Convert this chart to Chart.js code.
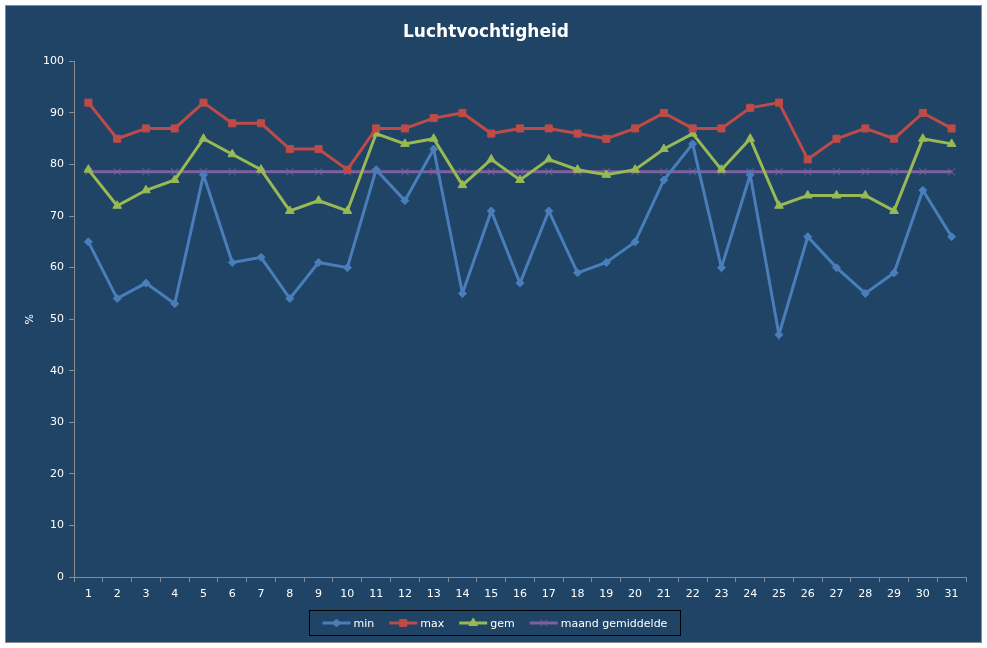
<!DOCTYPE html>
<html>
<head>
<meta charset="utf-8">
<script src="https://cdn.jsdelivr.net/npm/chart.js@4"></script>
<style>
  html, body { margin: 0; padding: 0; background: #ffffff; }
  #box {
    position: absolute; left: 5px; top: 5px;
    width: 975px; height: 636px;
    background: #1f4466; border: 1px solid #8a8a8a;
  }
  canvas { display: block; }
</style>
</head>
<body>
<div id="box"><canvas id="chart" width="975" height="636"></canvas></div>
<script>
const days = ["1","2","3","4","5","6","7","8","9","10","11","12","13","14","15","16",
  "17","18","19","20","21","22","23","24","25","26","27","28","29","30","31"];

const minValues = [65, 54, 57, 53, 78, 61, 62, 54, 61, 60, 79, 73, 83, 55, 71, 57,
  71, 59, 61, 65, 77, 84, 60, 78, 47, 66, 60, 55, 59, 75, 66];
const maxValues = [92, 85, 87, 87, 92, 88, 88, 83, 83, 79, 87, 87, 89, 90, 86, 87,
  87, 86, 85, 87, 90, 87, 87, 91, 92, 81, 85, 87, 85, 90, 87];
const gemValues = [79, 72, 75, 77, 85, 82, 79, 71, 73, 71, 86, 84, 85, 76, 81, 77,
  81, 79, 78, 79, 83, 86, 79, 85, 72, 74, 74, 74, 71, 85, 84];
const maandValues = [78.6, 78.6, 78.6, 78.6, 78.6, 78.6, 78.6, 78.6, 78.6, 78.6, 78.6,
  78.6, 78.6, 78.6, 78.6, 78.6, 78.6, 78.6, 78.6, 78.6, 78.6, 78.6, 78.6, 78.6, 78.6,
  78.6, 78.6, 78.6, 78.6, 78.6, 78.6];

const FONT = "'DejaVu Sans', Verdana, sans-serif";
const AXIS = '#8c8c8c';

const series = [
  { label: 'min', data: minValues, color: '#4a7ebb', style: 'rectRot', radius: 4 },
  { label: 'max', data: maxValues, color: '#be4b48', style: 'rect', radius: 5 },
  { label: 'gem', data: gemValues, color: '#98b954', style: 'triangle', radius: 5 },
  { label: 'maand gemiddelde', data: maandValues, color: '#7d60a0', style: 'crossRot', radius: 5 },
];

const datasets = series.map(s => ({
  label: s.label,
  data: s.data,
  borderColor: s.color,
  backgroundColor: s.color,
  borderWidth: 3,
  pointStyle: s.style,
  pointRadius: s.radius,
  pointBorderWidth: 1,
  pointBackgroundColor: s.color,
  pointBorderColor: s.color,
  tension: 0,
  clip: false,
}));

// legend like the spreadsheet one: line sample + marker, boxed
const boxLegend = {
  id: 'boxLegend',
  afterDraw(chart) {
    const ctx = chart.ctx;
    ctx.save();
    ctx.font = '11px ' + FONT;
    const lineLen = 28, gap = 3, spacing = 15, pad = 13;
    const widths = series.map(s => lineLen + gap + ctx.measureText(s.label).width);
    const total = widths.reduce((a, b) => a + b, 0) + spacing * (series.length - 1);
    const boxW = Math.round(total + pad * 2), boxH = 25;
    const cx = (chart.chartArea.left + chart.chartArea.right) / 2 - 26;
    const bx = Math.round(cx - boxW / 2) + 0.5, by = 604.5;
    ctx.strokeStyle = '#000000';
    ctx.lineWidth = 1;
    ctx.strokeRect(bx, by, boxW, boxH);
    let x = bx + pad;
    const y = by + boxH / 2;
    series.forEach((s, i) => {
      ctx.strokeStyle = s.color;
      ctx.lineWidth = 3;
      ctx.beginPath();
      ctx.moveTo(x, y);
      ctx.lineTo(x + lineLen, y);
      ctx.stroke();
      ctx.fillStyle = s.color;
      ctx.lineWidth = 1;
      Chart.helpers.drawPoint(ctx, { pointStyle: s.style, radius: s.radius, borderWidth: 1 }, x + lineLen / 2, y);
      ctx.fillStyle = '#ffffff';
      ctx.textBaseline = 'middle';
      ctx.textAlign = 'left';
      ctx.fillText(s.label, x + lineLen + gap, y + 1);
      x += widths[i] + spacing;
    });
    ctx.restore();
  }
};

new Chart(document.getElementById('chart'), {
  type: 'line',
  data: { labels: days, datasets },
  plugins: [boxLegend],
  options: {
    responsive: false,
    animation: false,
    layout: { padding: { left: 0, right: 15, top: 0, bottom: 36 } },
    plugins: {
      legend: { display: false },
      tooltip: { enabled: false },
      title: {
        display: true,
        text: 'Luchtvochtigheid',
        color: '#ffffff',
        font: { family: FONT, size: 17, weight: 'bold' },
        padding: { top: 16, bottom: 19 },
      },
    },
    scales: {
      x: {
        offset: true,
        grid: { offset: true, drawOnChartArea: false, drawTicks: true, tickLength: 5, color: AXIS },
        border: { color: AXIS, width: 1 },
        ticks: { color: '#ffffff', font: { family: FONT, size: 11 }, padding: 6, maxRotation: 0, autoSkip: false },
        afterFit(scale) { scale.height = 29; },
      },
      y: {
        min: 0,
        max: 100,
        ticks: { stepSize: 10, color: '#ffffff', font: { family: FONT, size: 11 }, padding: 5 },
        grid: { drawOnChartArea: false, drawTicks: true, tickLength: 5, color: AXIS },
        border: { color: AXIS, width: 1 },
        title: { display: true, text: '%', color: '#ffffff', font: { family: FONT, size: 11 }, padding: { top: 18, bottom: 0 } },
        afterFit(scale) { scale.width = 68; },
      },
    },
  },
});
</script>
</body>
</html>
